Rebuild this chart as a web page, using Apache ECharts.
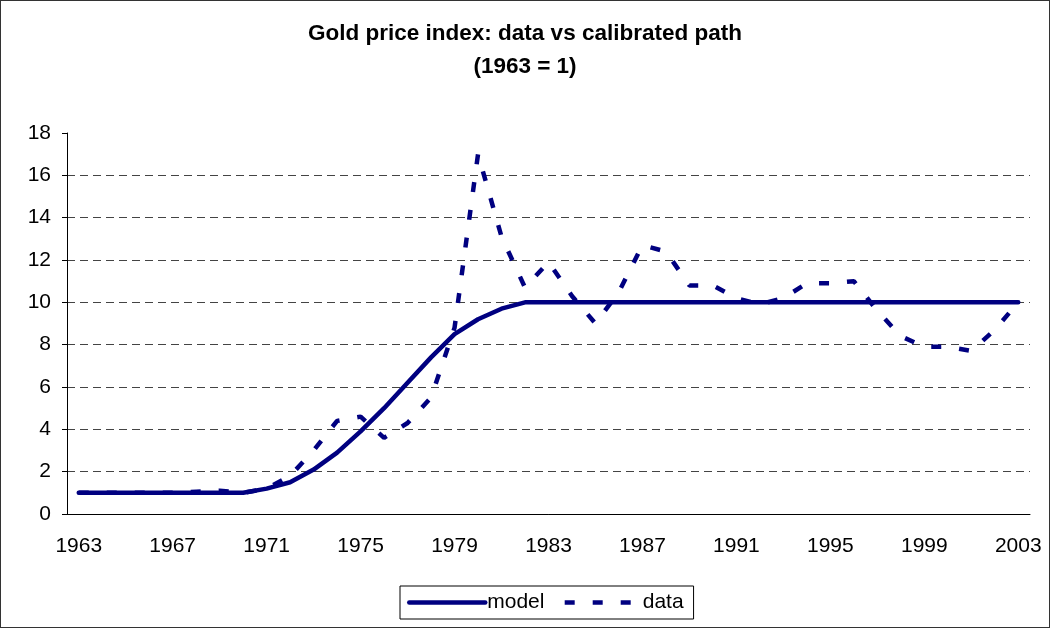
<!DOCTYPE html>
<html>
<head>
<meta charset="utf-8">
<script src="https://cdn.jsdelivr.net/npm/echarts@6/dist/echarts.min.js"></script>
<style>
  html, body { margin: 0; padding: 0; background: #fff; }
  #wrap { position: relative; width: 1050px; height: 628px; }
  #chart { width: 1050px; height: 628px; }
  #frame { position: absolute; left: 0; top: 0; width: 1050px; height: 628px; box-sizing: border-box; border: 1px solid #333; pointer-events: none; }
</style>
</head>
<body>
<div id="wrap">
  <div id="chart"></div>
  <div id="frame"></div>
</div>
<script>
// years 1963..2003
const years = [];
for (let y = 1963; y <= 2003; y++) years.push(String(y));

// calibrated path (model)
const modelValues = [
  1, 1, 1, 1, 1, 1, 1, 1, 1.2, 1.5,
  2.1, 2.9, 3.9, 5.0, 6.2, 7.4, 8.5, 9.2, 9.7, 10,
  10, 10, 10, 10, 10, 10, 10, 10, 10, 10,
  10, 10, 10, 10, 10, 10, 10, 10, 10, 10,
  10
];

// gold price index (data)
const dataValues = [
  1, 1, 1, 1, 1, 1.05, 1.1, 1.0, 1.2, 1.8,
  3.0, 4.4, 4.6, 3.6, 4.3, 5.5, 8.8, 17.0, 13.1, 10.7,
  11.9, 10.3, 9.0, 10.5, 12.7, 12.4, 10.8, 10.8, 10.2, 9.9,
  10.2, 10.9, 10.9, 11.0, 9.6, 8.4, 7.9, 7.9, 7.7, 8.7,
  10.0
];

const chart = echarts.init(document.getElementById('chart'));
const navy = '#000080';
const font = 'Liberation Sans, Arial, sans-serif';

chart.setOption({
  animation: false,
  title: {
    text: 'Gold price index: data vs calibrated path\n(1963 = 1)',
    left: 'center',
    top: 12,
    textStyle: {
      fontFamily: font,
      fontSize: 22.5,
      fontWeight: 'bold',
      color: '#000',
      lineHeight: 33
    }
  },
  legend: {
    bottom: 9,
    left: 400,
    data: ['model', 'data'],
    itemWidth: 76,
    itemHeight: 14,
    itemGap: 18,
    padding: [6, 10, 6, 7],
    borderColor: '#000',
    borderWidth: 1,
    lineStyle: { width: 4.5 },
    itemStyle: { color: 'rgba(0,0,0,0)', borderWidth: 0 },
    textStyle: { fontFamily: font, fontSize: 21, color: '#000', padding: [0, 0, 0, -3] }
  },
  grid: { left: 67, right: 20, top: 133, bottom: 114 },
  xAxis: {
    type: 'category',
    data: years,
    boundaryGap: true,
    axisLine: { lineStyle: { color: '#000', width: 1 } },
    axisTick: { interval: 3, length: 5, lineStyle: { color: '#000' } },
    axisLabel: { interval: 3, fontFamily: font, fontSize: 21, color: '#000', margin: 22 },
    splitLine: { show: false }
  },
  yAxis: {
    type: 'value',
    min: 0,
    max: 18,
    interval: 2,
    axisLine: { show: true, lineStyle: { color: '#000', width: 1 } },
    axisTick: { show: true, length: 5, lineStyle: { color: '#000' } },
    axisLabel: { fontFamily: font, fontSize: 21, color: '#000', margin: 16 },
    splitLine: {
      show: true,
      showMaxLine: false,
      lineStyle: { color: '#444', width: 1, type: [8, 5] }
    }
  },
  series: [
    {
      name: 'model',
      type: 'line',
      data: modelValues,
      symbol: 'none',
      lineStyle: { color: navy, width: 4.5, cap: 'round' },
      itemStyle: { color: navy },
      z: 3
    },
    {
      name: 'data',
      type: 'line',
      data: dataValues,
      symbol: 'none',
      lineStyle: { color: navy, width: 4.5, type: [10, 18], cap: 'butt' },
      itemStyle: { color: navy },
      z: 2
    }
  ]
});
</script>
</body>
</html>
